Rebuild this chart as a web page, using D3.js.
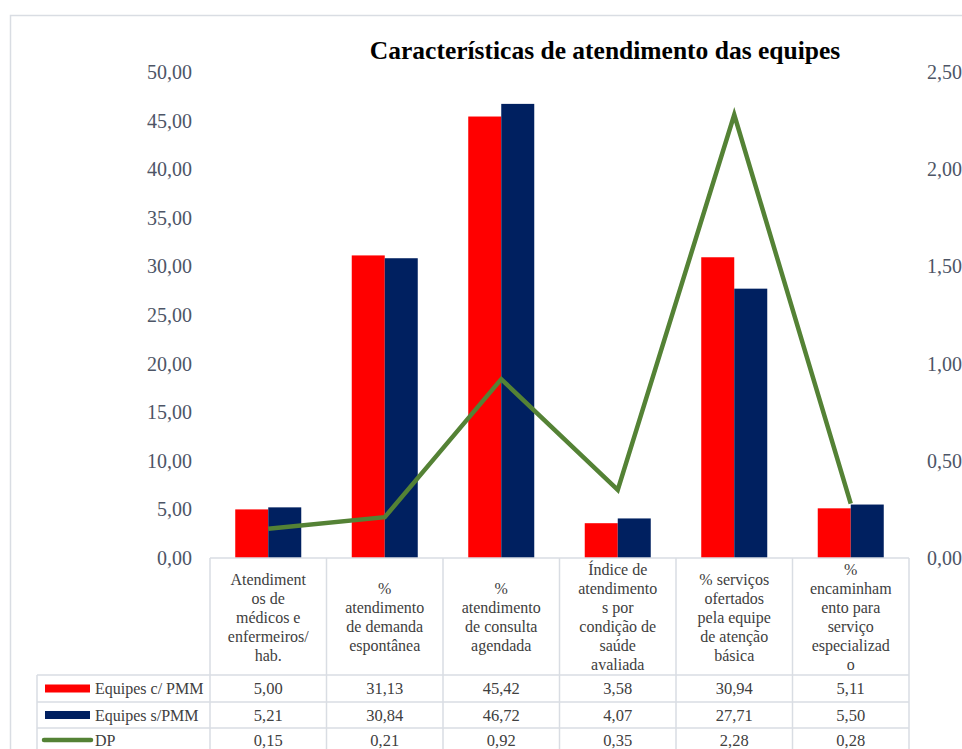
<!DOCTYPE html>
<html>
<head>
<meta charset="utf-8">
<script src="https://cdn.jsdelivr.net/npm/d3@7"></script>
<style>
  body { margin: 0; background: #fff; }
  svg { display: block; font-family: "Liberation Serif", "Times New Roman", serif; }
</style>
</head>
<body>
<svg id="chart" width="962" height="749"></svg>
<script>
// chart data
const categories = [
  ["Atendiment", "os de", "médicos e", "enfermeiros/", "hab."],
  ["%", "atendimento", "de demanda", "espontânea"],
  ["%", "atendimento", "de consulta", "agendada"],
  ["Índice de", "atendimento", "s por", "condição de", "saúde", "avaliada"],
  ["% serviços", "ofertados", "pela equipe", "de atenção", "básica"],
  ["%", "encaminham", "ento para", "serviço", "especializad", "o"]
];
const seriesNames = ["Equipes c/ PMM", "Equipes s/PMM", "DP"];
const comPMM = [5.00, 31.13, 45.42, 3.58, 30.94, 5.11];
const semPMM = [5.21, 30.84, 46.72, 4.07, 27.71, 5.50];
const dp = [0.15, 0.21, 0.92, 0.35, 2.28, 0.28];
const leftTicks = [0, 5, 10, 15, 20, 25, 30, 35, 40, 45, 50];
const rightTicks = [0, 0.5, 1, 1.5, 2, 2.5];

const colors = { c: "#ff0000", s: "#002060", dp: "#548235" };
const grid = "#d9dde3";
const textCol = "#404040";
const axisCol = "#4d5566";
const serif = "'Liberation Serif', 'Times New Roman', serif";

const svg = d3.select("#chart");
const locale = d3.formatLocale({ decimal: ",", thousands: ".", grouping: [3], currency: ["R$", ""] });
const fmt = locale.format(".2f");

// layout
const plotTop = 72, plotBottom = 558;
const tableLeft = 210, tableRight = 909, legendLeft = 37;
const headerBottom = 675;
const rowLines = [675, 702, 728, 752];

// outer frame
svg.append("rect")
  .attr("x", 10.5).attr("y", 15.5)
  .attr("width", 970).attr("height", 760)
  .attr("fill", "none").attr("stroke", grid).attr("stroke-width", 1.5);

const idx = categories.map((_, i) => i);
const x = d3.scaleBand().domain(idx).range([tableLeft, tableRight]);
const xInner = d3.scaleBand().domain(["c", "s"]).range([0, x.bandwidth()]).paddingOuter(0.765);
const y = d3.scaleLinear().domain([0, 50]).range([plotBottom, plotTop]);
const y2 = d3.scaleLinear().domain([0, 2.5]).range([plotBottom, plotTop]);

// title
svg.append("text")
  .attr("x", 605).attr("y", 59)
  .attr("text-anchor", "middle")
  .attr("font-family", serif)
  .attr("font-size", 25.5).attr("font-weight", "bold").attr("fill", "#000")
  .text("Características de atendimento das equipes");

// axes
const leftAxis = svg.append("g")
  .attr("transform", `translate(${200},0)`)
  .call(d3.axisLeft(y).tickValues(leftTicks).tickFormat(fmt).tickSize(0).tickPadding(8));
const rightAxis = svg.append("g")
  .attr("transform", `translate(${917},0)`)
  .call(d3.axisRight(y2).tickValues(rightTicks).tickFormat(fmt).tickSize(0).tickPadding(10));
[leftAxis, rightAxis].forEach(a => {
  a.attr("font-family", serif);
  a.select(".domain").remove();
  a.selectAll("text")
    .attr("font-size", 20).attr("fill", axisCol);
});

// bars
const barData = [];
idx.forEach(i => {
  barData.push({ i, k: "c", v: comPMM[i] });
  barData.push({ i, k: "s", v: semPMM[i] });
});
svg.append("g").selectAll("rect")
  .data(barData)
  .join("rect")
  .attr("x", d => x(d.i) + xInner(d.k))
  .attr("width", xInner.bandwidth())
  .attr("y", d => y(d.v))
  .attr("height", d => y(0) - y(d.v))
  .attr("fill", d => colors[d.k]);

// DP line
const line = d3.line()
  .x((d, i) => x(i) + x.bandwidth() / 2)
  .y(d => y2(d));
svg.append("path")
  .datum(dp)
  .attr("d", line)
  .attr("fill", "none")
  .attr("stroke", colors.dp)
  .attr("stroke-width", 4.5)
  .attr("stroke-linejoin", "miter");

// data table
const tbl = svg.append("g").attr("stroke", grid).attr("stroke-width", 1.5);
tbl.append("line").attr("x1", tableLeft).attr("x2", tableRight).attr("y1", plotBottom).attr("y2", plotBottom);
rowLines.forEach(ry => {
  tbl.append("line").attr("x1", legendLeft).attr("x2", tableRight).attr("y1", ry).attr("y2", ry);
});
tbl.append("line").attr("x1", legendLeft).attr("x2", legendLeft).attr("y1", headerBottom).attr("y2", 760);
d3.range(categories.length + 1).forEach(i => {
  const lx = i < categories.length ? x(i) : tableRight;
  tbl.append("line").attr("x1", lx).attr("x2", lx).attr("y1", plotBottom).attr("y2", 760);
});

// header texts
const lh = 19;
const headerMid = (plotBottom + headerBottom) / 2;
categories.forEach((lines, i) => {
  const t = svg.append("text")
    .attr("text-anchor", "middle")
    .attr("font-family", serif)
    .attr("font-size", 16).attr("fill", textCol);
  const y0 = headerMid - (lines.length - 1) * lh / 2 + 6;
  lines.forEach((s, j) => {
    t.append("tspan").attr("x", x(i) + x.bandwidth() / 2).attr("y", y0 + j * lh).text(s);
  });
});

// value rows
const rows = [comPMM, semPMM, dp];
rows.forEach((vals, r) => {
  const cy = (rowLines[r] + rowLines[r + 1]) / 2;
  svg.append("g").selectAll("text")
    .data(vals)
    .join("text")
    .attr("x", (d, i) => x(i) + x.bandwidth() / 2)
    .attr("y", cy + 5.5)
    .attr("text-anchor", "middle")
    .attr("font-family", serif)
    .attr("font-size", 16.5).attr("fill", textCol)
    .text(d => fmt(d));

  // legend key
  const k = ["c", "s", "dp"][r];
  if (k === "dp") {
    svg.append("line")
      .attr("x1", 44).attr("x2", 91).attr("y1", cy).attr("y2", cy)
      .attr("stroke", colors.dp).attr("stroke-width", 4.5).attr("stroke-linecap", "round");
  } else {
    svg.append("rect")
      .attr("x", 45).attr("y", cy - 4).attr("width", 45).attr("height", 8)
      .attr("fill", colors[k]);
  }
  svg.append("text")
    .attr("x", 95).attr("y", cy + 5.5)
    .attr("font-family", serif)
    .attr("font-size", 16).attr("fill", textCol)
    .text(seriesNames[r]);
});
</script>
</body>
</html>
